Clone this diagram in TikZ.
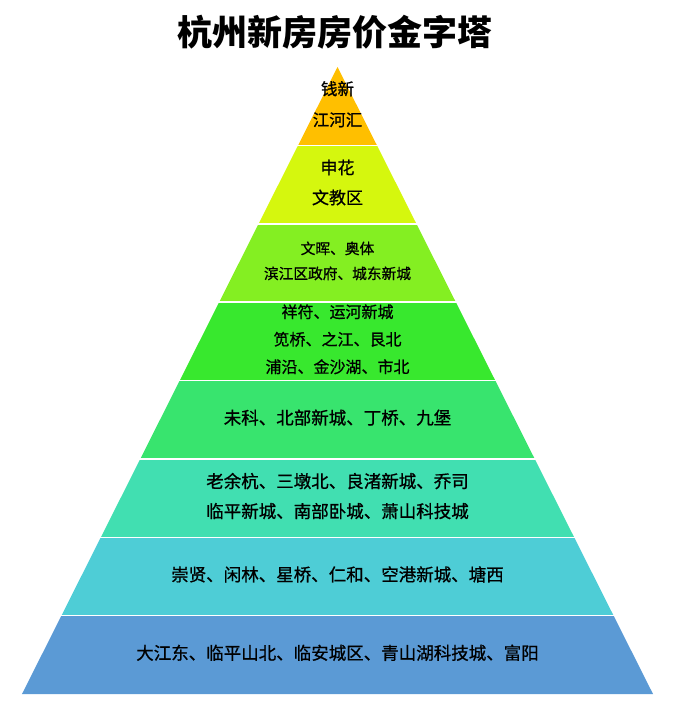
\documentclass[tikz,border=0pt]{standalone}
\usepackage{fontspec}
\setmainfont{Noto Sans CJK SC}
\newfontfamily\lvfont{Noto Sans CJK SC}[FakeBold=0.8]
\usepackage{tikz}

\definecolor{lvA}{HTML}{FFBF00}
\definecolor{lvB}{HTML}{D5F70E}
\definecolor{lvC}{HTML}{84EF22}
\definecolor{lvD}{HTML}{38E82E}
\definecolor{lvE}{HTML}{38E46E}
\definecolor{lvF}{HTML}{41DFB1}
\definecolor{lvG}{HTML}{4ECDD6}
\definecolor{lvH}{HTML}{5B9AD5}

\begin{document}
\begin{tikzpicture}[
  x = 1pt, y = -1pt,
  lvtext/.style = {align = center, text = black, inner sep = 0pt},
  gap/.style = {draw = white, line width = 1.5pt}
  ]
  \useasboundingbox (0,0) rectangle (682,706);
  \node[font = \fontsize{35}{40}\selectfont\bfseries] (title) at (335,32) {杭州新房房价金字塔};
  % layers, top to bottom
  \foreach \i/\col/\fs/\ls/\txt in {
      1/lvA/16.5/31/{钱新\\江河汇},
      2/lvB/17/30/{申花\\文教区},
      3/lvC/14.7/25/{文晖、奥体\\滨江区政府、城东新城},
      4/lvD/16/27.5/{祥符、运河新城\\笕桥、之江、艮北\\浦沿、金沙湖、市北},
      5/lvE/17.5/30/{未科、北部新城、丁桥、九堡},
      6/lvF/17.5/30/{老余杭、三墩北、良渚新城、乔司\\临平新城、南部卧城、萧山科技城},
      7/lvG/17.5/30/{崇贤、闲林、星桥、仁和、空港新城、塘西},
      8/lvH/17.5/30/{大江东、临平山北、临安城区、青山湖科技城、富阳}}
  {
    \pgfmathsetmacro\yt{67+(\i-1)*78.375}
    \pgfmathsetmacro\yb{67+\i*78.375}
    \pgfmathsetmacro\wt{(\yt-67)*0.5032}
    \pgfmathsetmacro\wb{(\yb-67)*0.5032}
    \fill[\col] (337.5-\wt,\yt) -- (337.5+\wt,\yt) -- (337.5+\wb,\yb) -- (337.5-\wb,\yb) -- cycle;
    \node[lvtext, font = \lvfont\fontsize{\fs}{\ls}\selectfont] (layer\i) at (337.5,{(\yt+\yb)/2-2}) {\txt};
  }
  % white gaps between layers
  \foreach \i in {1,...,7} {
    \pgfmathsetmacro\yb{67+\i*78.375}
    \draw[gap] (0,\yb) -- (682,\yb);
  }
\end{tikzpicture}
\end{document}
